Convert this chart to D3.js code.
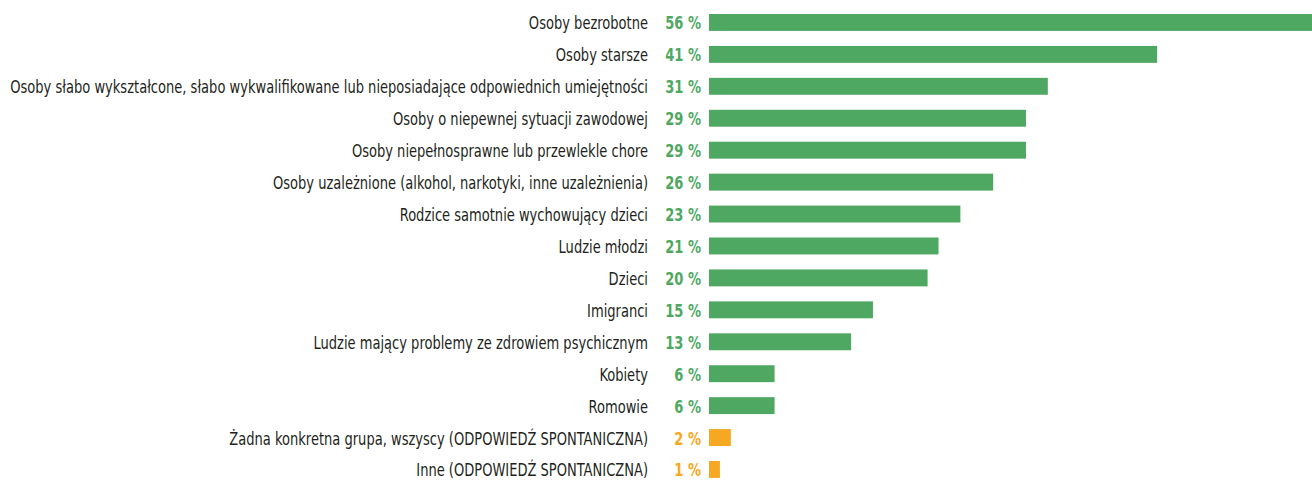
<!DOCTYPE html>
<meta charset="utf-8">
<script src="https://d3js.org/d3.v7.min.js"></script>
<style>
  body { margin: 0; background: #fff; }
  text { font-family: "DejaVu Sans Condensed", "Liberation Sans Narrow", sans-serif; }
</style>
<div id="my_dataviz"></div>
<script>

// categories and values (percent)
var categories = [
  "Osoby bezrobotne",
  "Osoby starsze",
  "Osoby słabo wykształcone, słabo wykwalifikowane lub nieposiadające odpowiednich umiejętności",
  "Osoby o niepewnej sytuacji zawodowej",
  "Osoby niepełnosprawne lub przewlekle chore",
  "Osoby uzależnione (alkohol, narkotyki, inne uzależnienia)",
  "Rodzice samotnie wychowujący dzieci",
  "Ludzie młodzi",
  "Dzieci",
  "Imigranci",
  "Ludzie mający problemy ze zdrowiem psychicznym",
  "Kobiety",
  "Romowie",
  "Żadna konkretna grupa, wszyscy (ODPOWIEDŹ SPONTANICZNA)",
  "Inne (ODPOWIEDŹ SPONTANICZNA)"
];
var values = [56, 41, 31, 29, 29, 26, 23, 21, 20, 15, 13, 6, 6, 2, 1];
// spontaneous answers are drawn in orange
var spontaneous = [false, false, false, false, false, false, false, false, false, false, false, false, false, true, true];

var data = categories.map(function(c, i) {
  return { name: c, value: values[i], spont: spontaneous[i] };
});

var width = 1312, height = 480;
var green = "#4fa862", orange = "#f7a823";

var svg = d3.select("#my_dataviz")
  .append("svg")
    .attr("width", width)
    .attr("height", height);

var barX = 709;

// x scale: ~10.93 px per percentage point
var x = d3.scaleLinear()
  .domain([0, 100])
  .range([0, 1093]);

// y scale
var y = d3.scaleBand()
  .domain(categories)
  .range([6.5, 6.5 + 31.93 * categories.length])
  .paddingInner(0.47)
  .paddingOuter(0.235);

// bars
svg.append("g")
  .selectAll("rect")
  .data(data)
  .enter()
  .append("rect")
    .attr("x", barX)
    .attr("y", function(d) { return y(d.name); })
    .attr("width", function(d) { return x(d.value); })
    .attr("height", y.bandwidth())
    .style("fill", function(d) { return d.spont ? orange : green; });

// category labels, squeezed horizontally to mimic the condensed font
var labels = svg.append("g")
  .selectAll("g")
  .data(data)
  .enter()
  .append("g");

var labelText = labels.append("text")
    .attr("x", 0)
    .attr("y", 0)
    .style("text-anchor", "end")
    .style("font-size", "18px")
    .style("fill", "#231f20")
    .text(function(d) { return d.name; });

var maxW = d3.max(labelText.nodes(), function(n) { return n.getComputedTextLength(); });
var sx = 638 / maxW;

labels.attr("transform", function(d) {
  return "translate(648," + (y(d.name) + y.bandwidth() / 2 + 7) + ") scale(" + sx + ",1)";
});

// value labels
svg.append("g")
  .selectAll("text")
  .data(data)
  .enter()
  .append("text")
    .attr("transform", function(d) {
      return "translate(701," + (y(d.name) + y.bandwidth() / 2 + 7) + ") scale(" + sx + ",1)";
    })
    .style("text-anchor", "end")
    .style("font-size", "18px")
    .style("font-weight", "bold")
    .style("fill", function(d) { return d.spont ? orange : green; })
    .text(function(d) { return d.value + " %"; });

</script>
